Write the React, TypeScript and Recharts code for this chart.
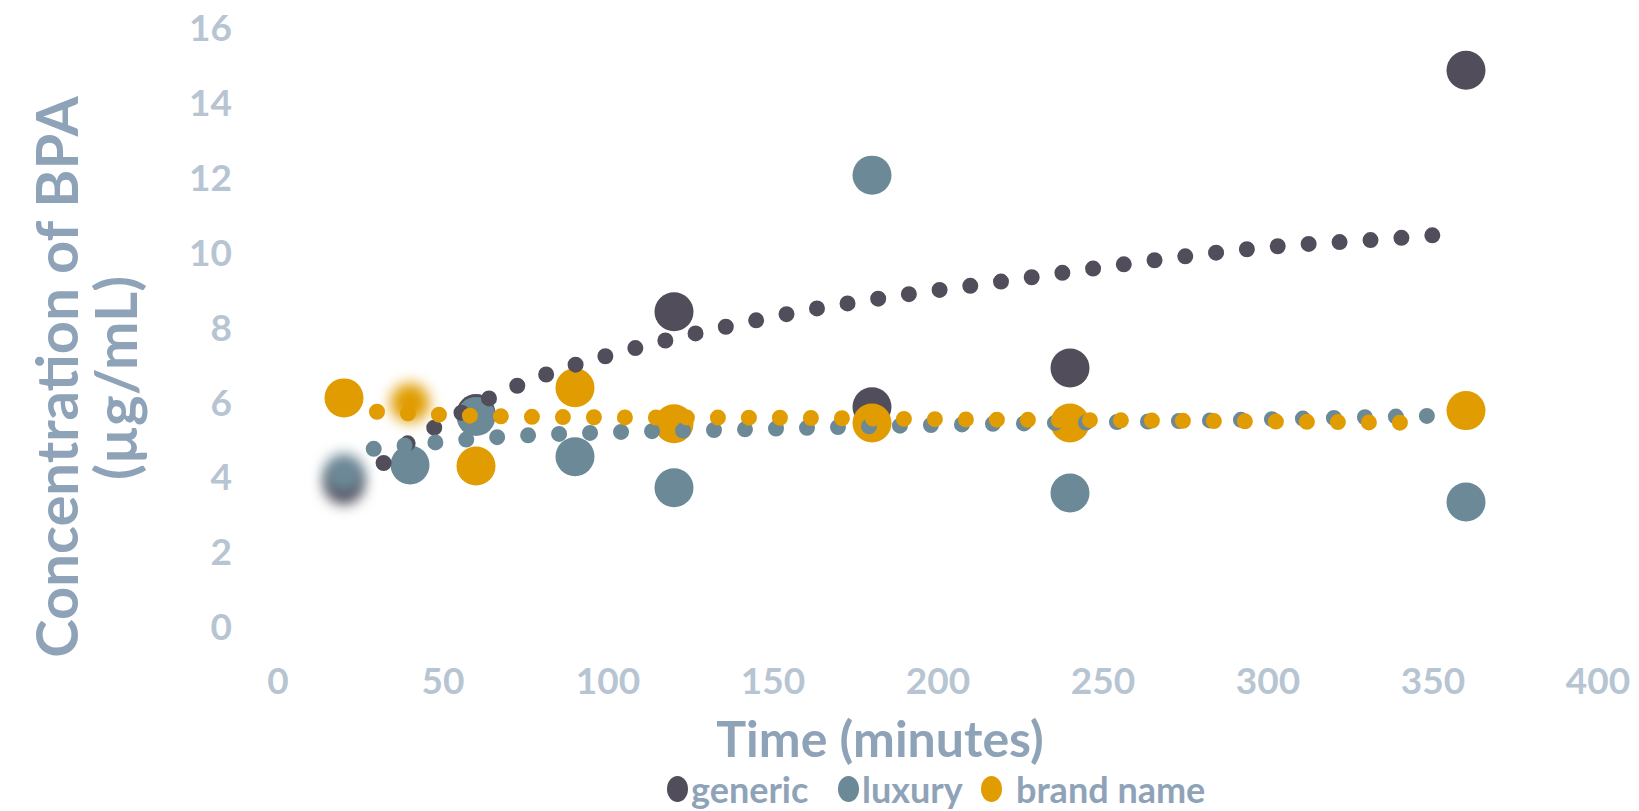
import { ScatterChart, Scatter, XAxis, YAxis } from "recharts";

// measured concentrations (µg/mL) per sampling time (minutes)
const genericTimes = [20, 60, 120, 180, 240, 360];
const genericValues = [3.8, 5.7, 8.42, 5.88, 6.92, 14.87];

const luxuryTimes = [20, 40, 60, 90, 120, 180, 240, 360];
const luxuryValues = [4.1, 4.33, 5.62, 4.55, 3.72, 12.07, 3.58, 3.34];

const brandTimes = [20, 40, 60, 90, 120, 180, 240, 360];
const brandValues = [6.12, 5.99, 4.3, 6.39, 5.43, 5.45, 5.45, 5.78];

// trend curves
const genericTrendTimes = [32, 40, 50, 65, 83, 102, 121, 140, 159, 188, 217, 245, 274, 303, 332, 351];
const genericTrendValues = [4.38, 4.95, 5.45, 6.15, 6.8, 7.3, 7.73, 8.1, 8.44, 8.85, 9.2, 9.55, 9.89, 10.17, 10.34, 10.47];

const luxuryTrendTimes = [29, 50, 68, 100, 136, 200, 271, 349];
const luxuryTrendValues = [4.76, 4.95, 5.08, 5.2, 5.27, 5.4, 5.5, 5.64];

const brandTrendTimes = [30, 60, 100, 150, 200, 271, 349];
const brandTrendValues = [5.75, 5.64, 5.6, 5.59, 5.55, 5.51, 5.45];

const xTicks = [0, 50, 100, 150, 200, 250, 300, 350, 400];
const yTicks = [0, 2, 4, 6, 8, 10, 12, 14, 16];

// early samples that came out smeared
const smeared: Record<string, number[]> = { generic: [20], luxury: [20], brand: [40] };

const GENERIC = "#514d5a";
const LUXURY = "#6c8997";
const BRAND = "#e09c00";
const TICK = "#b7c5d3";
const TITLE = "#8fa3b8";
const FONT = "Lato, 'Open Sans', sans-serif";

const pairs = (xs: number[], ys: number[]) => xs.map((x, i) => ({ x, y: ys[i] }));

const marker = (name: string, color: string) => (props: any) => {
  const { cx, cy, payload } = props;
  const soft = smeared[name]?.includes(payload.x);
  return (
    <circle
      cx={cx}
      cy={cy}
      r={19.5}
      fill={color}
      style={soft ? { filter: "blur(7px)" } : undefined}
    />
  );
};

const noDot = () => <g />;

const trendLine = (color: string) => ({
  stroke: color,
  strokeWidth: 16,
  strokeDasharray: "0 31",
  strokeLinecap: "round" as const,
  fill: "none",
});

const legendItems = [
  { label: "generic", color: GENERIC, left: 667 },
  { label: "luxury", color: LUXURY, left: 838 },
  { label: "brand name", color: BRAND, left: 981 },
];

const titleStyle = {
  position: "absolute" as const,
  whiteSpace: "nowrap" as const,
  fontFamily: FONT,
  fontWeight: 700,
  lineHeight: 1,
  color: TITLE,
};

export default function App() {
  const tickStyle = { fill: TICK, fontSize: 37, fontWeight: 700, fontFamily: FONT };

  return (
    <div style={{ position: "absolute", left: 0, top: 0, width: 1639, height: 811, background: "#fff" }}>
      <ScatterChart width={1639} height={811} margin={{ top: 28, right: 41, bottom: 124, left: 0 }}>
        <XAxis
          type="number"
          dataKey="x"
          domain={[0, 400]}
          ticks={xTicks}
          axisLine={false}
          tickLine={false}
          tickSize={0}
          tickMargin={41}
          height={60}
          tick={tickStyle}
          interval={0}
        />
        <YAxis
          type="number"
          dataKey="y"
          domain={[0, 16]}
          ticks={yTicks}
          axisLine={false}
          tickLine={false}
          tickSize={0}
          tickMargin={46}
          width={278}
          tick={tickStyle}
          interval={0}
        />
        <Scatter data={pairs(genericTimes, genericValues)} shape={marker("generic", GENERIC)} isAnimationActive={false} />
        <Scatter data={pairs(luxuryTimes, luxuryValues)} shape={marker("luxury", LUXURY)} isAnimationActive={false} />
        <Scatter data={pairs(brandTimes, brandValues)} shape={marker("brand", BRAND)} isAnimationActive={false} />

        <Scatter
          data={pairs(genericTrendTimes, genericTrendValues)}
          line={trendLine(GENERIC)}
          lineJointType="monotoneX"
          shape={noDot}
          legendType="none"
          isAnimationActive={false}
        />
        <Scatter
          data={pairs(luxuryTrendTimes, luxuryTrendValues)}
          line={trendLine(LUXURY)}
          lineJointType="monotoneX"
          shape={noDot}
          legendType="none"
          isAnimationActive={false}
        />
        <Scatter
          data={pairs(brandTrendTimes, brandTrendValues)}
          line={trendLine(BRAND)}
          lineJointType="monotoneX"
          shape={noDot}
          legendType="none"
          isAnimationActive={false}
        />
      </ScatterChart>

      {/* axis titles */}
      <div style={{ ...titleStyle, left: 56, top: 377, fontSize: 58, transform: "translate(-50%, -50%) rotate(-90deg)" }}>
        Concentration of BPA
      </div>
      <div style={{ ...titleStyle, left: 115, top: 378, fontSize: 58, transform: "translate(-50%, -50%) rotate(-90deg)" }}>
        (µg/mL)
      </div>
      <div style={{ ...titleStyle, left: 880, top: 738, fontSize: 50, transform: "translate(-50%, -50%)" }}>
        Time (minutes)
      </div>

      {/* legend */}
      {legendItems.map((item) => (
        <div
          key={item.label}
          style={{
            ...titleStyle,
            left: item.left,
            top: 789,
            transform: "translateY(-50%)",
            display: "flex",
            alignItems: "center",
            fontSize: 36,
          }}
        >
          <span
            style={{
              display: "inline-block",
              width: 21,
              height: 26,
              borderRadius: "50%",
              background: item.color,
              marginRight: item.label === "brand name" ? 14 : 3,
            }}
          />
          {item.label}
        </div>
      ))}
    </div>
  );
}
